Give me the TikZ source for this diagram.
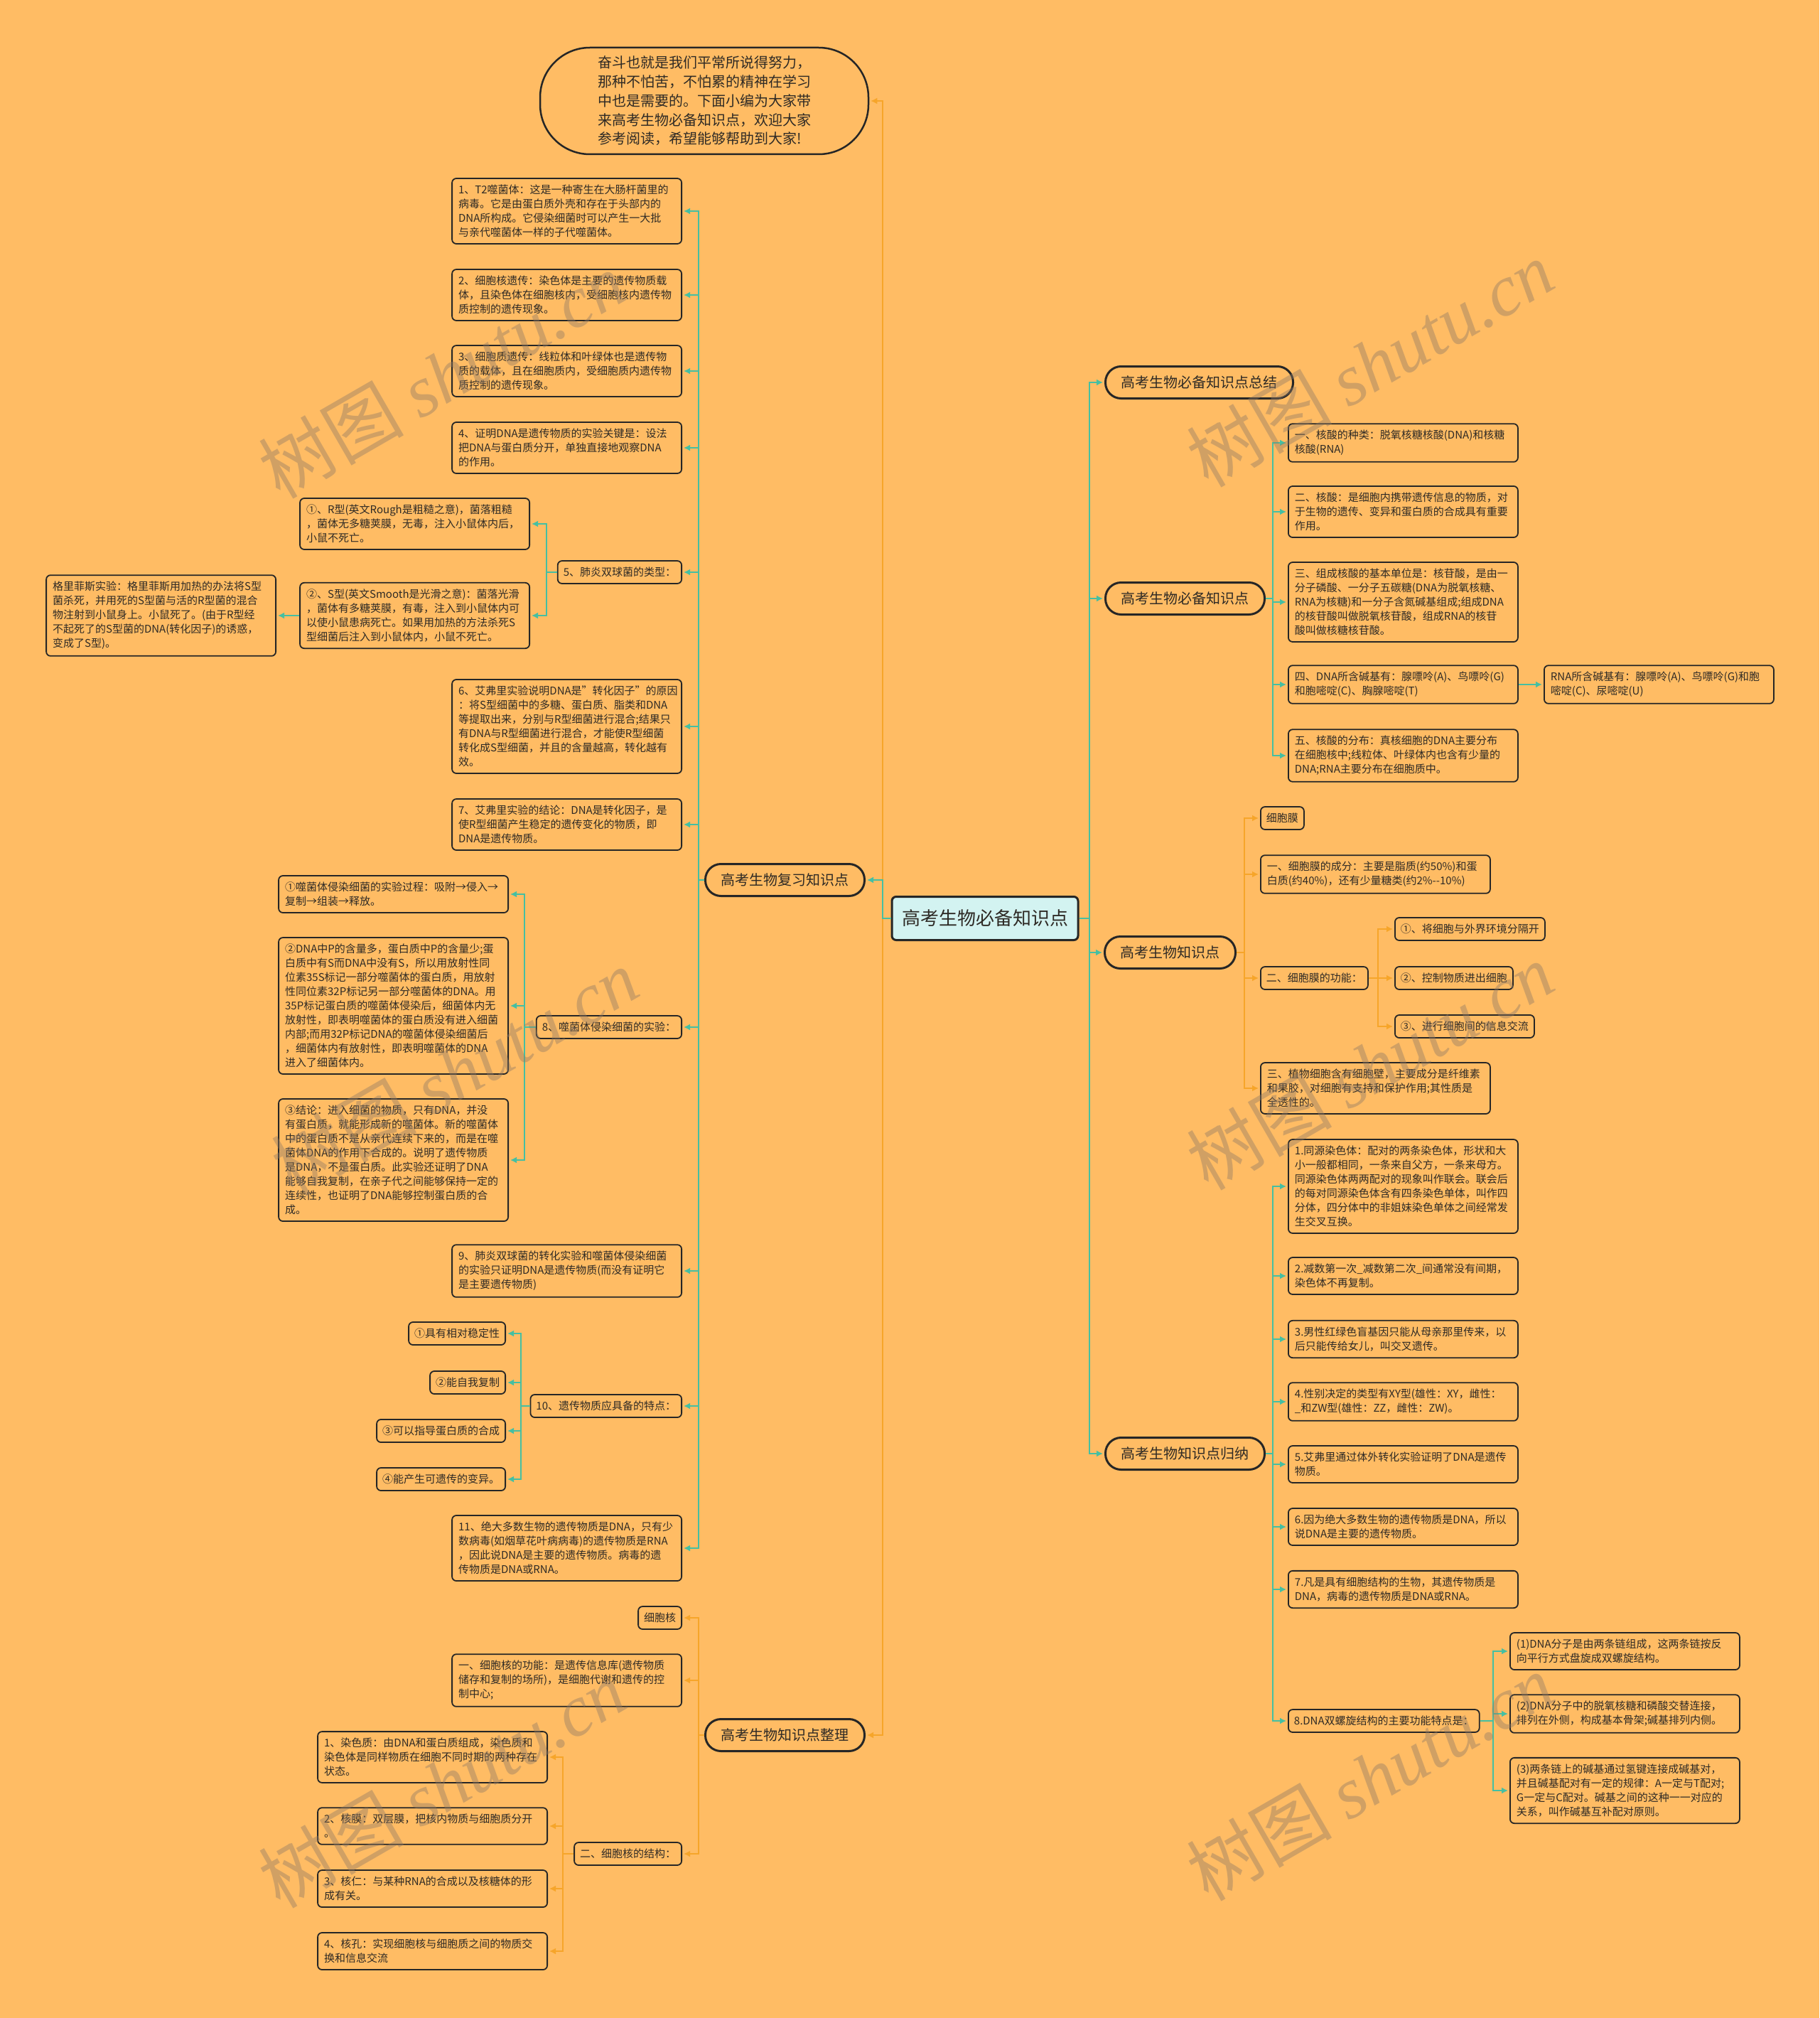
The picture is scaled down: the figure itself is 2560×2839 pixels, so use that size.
\documentclass[tikz,border=0pt]{standalone}
\usepackage{fontspec}
\setmainfont{Noto Sans CJK SC}
\newfontfamily\wmlat{Liberation Serif}
\usetikzlibrary{arrows.meta}
\definecolor{bg}{HTML}{FFBC64}
\definecolor{gcol}{HTML}{45BFA2}
\definecolor{ocol}{HTML}{F6A52A}
\definecolor{cfill}{HTML}{D3F3F1}
\definecolor{bd}{HTML}{262626}
\definecolor{tx}{HTML}{2E2A25}
\definecolor{wm}{HTML}{8F7A66}
\begin{document}
\begin{tikzpicture}[x=1pt,y=-1pt,
  leaf/.style={draw=bd, line width=1.8pt, rounded corners=6pt, fill=bg, text=tx,
    font=\fontsize{15}{20}\selectfont, inner xsep=8pt, inner ysep=9pt, align=left},
  wleaf/.style={leaf, inner xsep=9pt, text width=305pt},
  oval/.style={draw=bd, line width=3pt, rounded corners=22pt, fill=bg, text=tx,
    font=\fontsize{20}{24}\selectfont, inner xsep=22pt, minimum height=45pt},
  gline/.style={draw=gcol, line width=2.5pt},
  garr/.style={gline, -{Latex[length=9pt,width=9pt]}, shorten >=2pt},
  oline/.style={draw=ocol, line width=2.5pt},
  oarr/.style={oline, -{Latex[length=9pt,width=9pt]}, shorten >=2pt},
  wmark/.style={text=wm, text opacity=0.42, rotate=30, font=\fontsize{102}{102}\selectfont}
]
\fill[bg] (0,0) rectangle (2560,2839);
\useasboundingbox (0,0) rectangle (2560,2839);

% vertical line positions
\coordinate (vC) at (1242,0);
\coordinate (vL1) at (983,0);
\coordinate (v5) at (769,0);
\coordinate (v8) at (738,0);
\coordinate (v10) at (733,0);
\coordinate (vS) at (792,0);
\coordinate (vR) at (1533,0);
\coordinate (vR2) at (1791,0);
\coordinate (vK) at (1751,0);
\coordinate (vM) at (1939,0);
\coordinate (vD) at (2101,0);

% centre and intro
\node[draw=bd, line width=3pt, rounded corners=6pt, fill=cfill, text=tx,
  font=\fontsize{26}{30}\selectfont, minimum width=262pt, minimum height=61pt, inner xsep=14pt]
  (center) at (1386,1292) {高考生物必备知识点};
\node[draw=bd, line width=2.5pt, rounded corners=70pt, fill=bg, text=tx,
  font=\fontsize{20}{26.7}\selectfont, align=left, text width=300pt,
  minimum width=462pt, minimum height=150pt] (intro) at (991,142)
  {奋斗也就是我们平常所说得努力，\\那种不怕苦，不怕累的精神在学习\\中也是需要的。下面小编为大家带\\来高考生物必备知识点，欢迎大家\\参考阅读，希望能够帮助到大家!};

% left main branches
\node[oval, anchor=east] (fx) at (1218,1238) {高考生物复习知识点};
\node[oval, anchor=east] (zl) at (1218,2441) {高考生物知识点整理};

\node[wleaf, anchor=east] (n1) at (960,297) {1、T2噬菌体：这是一种寄生在大肠杆菌里的\\病毒。它是由蛋白质外壳和存在于头部内的\\DNA所构成。它侵染细菌时可以产生一大批\\与亲代噬菌体一样的子代噬菌体。};
\node[wleaf, anchor=east] (n2) at (960,415) {2、细胞核遗传：染色体是主要的遗传物质载\\体，且染色体在细胞核内，受细胞核内遗传物\\质控制的遗传现象。};
\node[wleaf, anchor=east] (n3) at (960,522) {3、细胞质遗传：线粒体和叶绿体也是遗传物\\质的载体，且在细胞质内，受细胞质内遗传物\\质控制的遗传现象。};
\node[wleaf, anchor=east] (n4) at (960,630) {4、证明DNA是遗传物质的实验关键是：设法\\把DNA与蛋白质分开，单独直接地观察DNA\\的作用。};
\node[leaf, anchor=east] (n5) at (960,805) {5、肺炎双球菌的类型：};
\node[wleaf, anchor=east] (n5a) at (746,737) {①、R型(英文Rough是粗糙之意)，菌落粗糙\\，菌体无多糖荚膜，无毒，注入小鼠体内后，\\小鼠不死亡。};
\node[wleaf, anchor=east] (n5b) at (746,866) {②、S型(英文Smooth是光滑之意)：菌落光滑\\，菌体有多糖荚膜，有毒，注入到小鼠体内可\\以使小鼠患病死亡。如果用加热的方法杀死S\\型细菌后注入到小鼠体内，小鼠不死亡。};
\node[wleaf, anchor=east] (n5c) at (389,866) {格里菲斯实验：格里菲斯用加热的办法将S型\\菌杀死，并用死的S型菌与活的R型菌的混合\\物注射到小鼠身上。小鼠死了。(由于R型经\\不起死了的S型菌的DNA(转化因子)的诱惑，\\变成了S型)。};
\node[wleaf, anchor=east] (n6) at (960,1022) {6、艾弗里实验说明DNA是"转化因子"的原因\\：将S型细菌中的多糖、蛋白质、脂类和DNA\\等提取出来，分别与R型细菌进行混合;结果只\\有DNA与R型细菌进行混合，才能使R型细菌\\转化成S型细菌，并且的含量越高，转化越有\\效。};
\node[wleaf, anchor=east] (n7) at (960,1160) {7、艾弗里实验的结论：DNA是转化因子，是\\使R型细菌产生稳定的遗传变化的物质，即\\DNA是遗传物质。};
\node[leaf, anchor=east] (n8) at (960,1445) {8、噬菌体侵染细菌的实验：};
\node[wleaf, anchor=east] (n8a) at (716,1258) {①噬菌体侵染细菌的实验过程：吸附→侵入→\\复制→组装→释放。};
\node[wleaf, anchor=east] (n8b) at (716,1415) {②DNA中P的含量多，蛋白质中P的含量少;蛋\\白质中有S而DNA中没有S，所以用放射性同\\位素35S标记一部分噬菌体的蛋白质，用放射\\性同位素32P标记另一部分噬菌体的DNA。用\\35P标记蛋白质的噬菌体侵染后，细菌体内无\\放射性，即表明噬菌体的蛋白质没有进入细菌\\内部;而用32P标记DNA的噬菌体侵染细菌后\\，细菌体内有放射性，即表明噬菌体的DNA\\进入了细菌体内。};
\node[wleaf, anchor=east] (n8c) at (716,1632) {③结论：进入细菌的物质，只有DNA，并没\\有蛋白质，就能形成新的噬菌体。新的噬菌体\\中的蛋白质不是从亲代连续下来的，而是在噬\\菌体DNA的作用下合成的。说明了遗传物质\\是DNA，不是蛋白质。此实验还证明了DNA\\能够自我复制，在亲子代之间能够保持一定的\\连续性，也证明了DNA能够控制蛋白质的合\\成。};
\node[wleaf, anchor=east] (n9) at (960,1788) {9、肺炎双球菌的转化实验和噬菌体侵染细菌\\的实验只证明DNA是遗传物质(而没有证明它\\是主要遗传物质)};
\node[leaf, anchor=east] (n10) at (960,1978) {10、遗传物质应具备的特点：};
\node[leaf, anchor=east] (n10a) at (712,1876) {①具有相对稳定性};
\node[leaf, anchor=east] (n10b) at (712,1945) {②能自我复制};
\node[leaf, anchor=east] (n10c) at (712,2013) {③可以指导蛋白质的合成};
\node[leaf, anchor=east] (n10d) at (712,2081) {④能产生可遗传的变异。};
\node[wleaf, anchor=east] (n11) at (960,2178) {11、绝大多数生物的遗传物质是DNA，只有少\\数病毒(如烟草花叶病病毒)的遗传物质是RNA\\，因此说DNA是主要的遗传物质。病毒的遗\\传物质是DNA或RNA。};

\node[leaf, anchor=east] (z0) at (960,2276) {细胞核};
\node[wleaf, anchor=east] (z1) at (960,2364) {一、细胞核的功能：是遗传信息库(遗传物质\\储存和复制的场所)，是细胞代谢和遗传的控\\制中心;};
\node[leaf, anchor=east] (z2) at (960,2608) {二、细胞核的结构：};
\node[wleaf, anchor=east] (z2a) at (771,2472) {1、染色质：由DNA和蛋白质组成，染色质和\\染色体是同样物质在细胞不同时期的两种存在\\状态。};
\node[wleaf, anchor=east] (z2b) at (771,2569) {2、核膜：双层膜，把核内物质与细胞质分开\\。};
\node[wleaf, anchor=east] (z2c) at (771,2657) {3、核仁：与某种RNA的合成以及核糖体的形\\成有关。};
\node[wleaf, anchor=east] (z2d) at (771,2745) {4、核孔：实现细胞核与细胞质之间的物质交\\换和信息交流};

% right main branches
\node[oval, anchor=west] (zj) at (1554,538) {高考生物必备知识点总结};
\node[oval, anchor=west] (bb) at (1554,842) {高考生物必备知识点};
\node[oval, anchor=west] (kk) at (1553,1340) {高考生物知识点};
\node[oval, anchor=west] (gn) at (1554,2045) {高考生物知识点归纳};

\node[wleaf, anchor=west] (b1) at (1812,623) {一、核酸的种类：脱氧核糖核酸(DNA)和核糖\\核酸(RNA)};
\node[wleaf, anchor=west] (b2) at (1812,720) {二、核酸：是细胞内携带遗传信息的物质，对\\于生物的遗传、变异和蛋白质的合成具有重要\\作用。};
\node[wleaf, anchor=west] (b3) at (1812,847) {三、组成核酸的基本单位是：核苷酸，是由一\\分子磷酸、一分子五碳糖(DNA为脱氧核糖、\\RNA为核糖)和一分子含氮碱基组成;组成DNA\\的核苷酸叫做脱氧核苷酸，组成RNA的核苷\\酸叫做核糖核苷酸。};
\node[wleaf, anchor=west] (b4) at (1812,963) {四、DNA所含碱基有：腺嘌呤(A)、鸟嘌呤(G)\\和胞嘧啶(C)、胸腺嘧啶(T)};
\node[wleaf, anchor=west] (b4r) at (2172,963) {RNA所含碱基有：腺嘌呤(A)、鸟嘌呤(G)和胞\\嘧啶(C)、尿嘧啶(U)};
\node[wleaf, anchor=west] (b5) at (1812,1063) {五、核酸的分布：真核细胞的DNA主要分布\\在细胞核中;线粒体、叶绿体内也含有少量的\\DNA;RNA主要分布在细胞质中。};

\node[leaf, anchor=west] (k0) at (1773,1151) {细胞膜};
\node[wleaf, anchor=west] (k1) at (1773,1230) {一、细胞膜的成分：主要是脂质(约50\%)和蛋\\白质(约40\%)，还有少量糖类(约2\%{-}{-}10\%)};
\node[leaf, anchor=west] (k2) at (1773,1376) {二、细胞膜的功能：};
\node[leaf, anchor=west] (k2a) at (1962,1307) {①、将细胞与外界环境分隔开};
\node[leaf, anchor=west] (k2b) at (1962,1376) {②、控制物质进出细胞};
\node[leaf, anchor=west] (k2c) at (1962,1444) {③、进行细胞间的信息交流};
\node[wleaf, anchor=west] (k3) at (1773,1531) {三、植物细胞含有细胞壁，主要成分是纤维素\\和果胶，对细胞有支持和保护作用;其性质是\\全透性的。};

\node[wleaf, anchor=west] (g1) at (1812,1669) {1.同源染色体：配对的两条染色体，形状和大\\小一般都相同，一条来自父方，一条来母方。\\同源染色体两两配对的现象叫作联会。联会后\\的每对同源染色体含有四条染色单体，叫作四\\分体，四分体中的非姐妹染色单体之间经常发\\生交叉互换。};
\node[wleaf, anchor=west] (g2) at (1812,1795) {2.减数第一次\_减数第二次\_间通常没有间期，\\染色体不再复制。};
\node[wleaf, anchor=west] (g3) at (1812,1884) {3.男性红绿色盲基因只能从母亲那里传来，以\\后只能传给女儿，叫交叉遗传。};
\node[wleaf, anchor=west] (g4) at (1812,1972) {4.性别决定的类型有XY型(雄性：XY，雌性：\\\_和ZW型(雄性：ZZ，雌性：ZW)。};
\node[wleaf, anchor=west] (g5) at (1812,2060) {5.艾弗里通过体外转化实验证明了DNA是遗传\\物质。};
\node[wleaf, anchor=west] (g6) at (1812,2148) {6.因为绝大多数生物的遗传物质是DNA，所以\\说DNA是主要的遗传物质。};
\node[wleaf, anchor=west] (g7) at (1812,2236) {7.凡是具有细胞结构的生物，其遗传物质是\\DNA，病毒的遗传物质是DNA或RNA。};
\node[leaf, anchor=west] (g8) at (1812,2421) {8.DNA双螺旋结构的主要功能特点是：};
\node[wleaf, anchor=west] (g8a) at (2124,2323) {(1)DNA分子是由两条链组成，这两条链按反\\向平行方式盘旋成双螺旋结构。};
\node[wleaf, anchor=west] (g8b) at (2124,2411) {(2)DNA分子中的脱氧核糖和磷酸交替连接，\\排列在外侧，构成基本骨架;碱基排列内侧。};
\node[wleaf, anchor=west] (g8c) at (2124,2519) {(3)两条链上的碱基通过氢键连接成碱基对，\\并且碱基配对有一定的规律：A一定与T配对;\\G一定与C配对。碱基之间的这种一一对应的\\关系，叫作碱基互补配对原则。};

% connectors: centre
\draw[oarr] (center.west) -- (center.west -| vC) |- (intro.east);
\draw[oarr] (center.west) -- (center.west -| vC) |- (zl.east);
\draw[garr] (center.west) -- (center.west -| vC) |- (fx.east);
\foreach \c in {zj,bb,kk,gn}
  \draw[garr] (center.east) -- (center.east -| vR) |- (\c.west);

% left branch children
\foreach \c in {n1,n2,n3,n4,n5,n6,n7,n8,n9,n10,n11}
  \draw[garr] (fx.west) -- (fx.west -| vL1) |- (\c.east);
\foreach \c in {n5a,n5b}
  \draw[garr] (n5.west) -- (n5.west -| v5) |- (\c.east);
\draw[garr] (n5b.west) -- (n5c.east);
\foreach \c in {n8a,n8b,n8c}
  \draw[garr] (n8.west) -- (n8.west -| v8) |- (\c.east);
\foreach \c in {n10a,n10b,n10c,n10d}
  \draw[garr] (n10.west) -- (n10.west -| v10) |- (\c.east);
\foreach \c in {z0,z1,z2}
  \draw[oarr] (zl.west) -- (zl.west -| vL1) |- (\c.east);
\foreach \c in {z2a,z2b,z2c,z2d}
  \draw[oarr] (z2.west) -- (z2.west -| vS) |- (\c.east);

% right branch children
\foreach \c in {b1,b2,b3,b4,b5}
  \draw[garr] (bb.east) -- (bb.east -| vR2) |- (\c.west);
\draw[garr] (b4.east) -- (b4r.west);
\foreach \c in {k0,k1,k2,k3}
  \draw[oarr] (kk.east) -- (kk.east -| vK) |- (\c.west);
\foreach \c in {k2a,k2b,k2c}
  \draw[oarr] (k2.east) -- (k2.east -| vM) |- (\c.west);
\foreach \c in {g1,g2,g3,g4,g5,g6,g7,g8}
  \draw[garr] (gn.east) -- (gn.east -| vR2) |- (\c.west);
\foreach \c in {g8a,g8b,g8c}
  \draw[garr] (g8.east) -- (g8.east -| vD) |- (\c.west);

% watermarks
\foreach \p in {(622,528),(1928,512),(640,1508),(1928,1500),(622,2510),(1928,2500)}
  \node[wmark] at \p {树图 {\wmlat\itshape shutu.cn}};
\end{tikzpicture}
\end{document}
